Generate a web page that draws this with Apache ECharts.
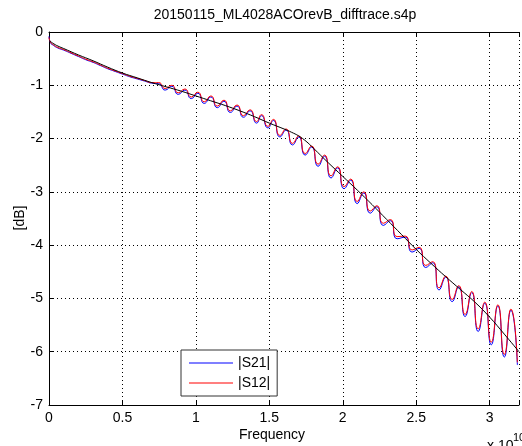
<!DOCTYPE html>
<html><head><meta charset="utf-8">
<script src="https://cdn.jsdelivr.net/npm/echarts@6/dist/echarts.min.js"></script>
<style>html,body{margin:0;padding:0;background:#fff}#c{width:522px;height:446px}</style>
</head><body><div id="c"></div>
<script>
// Frequency in units of 1e10 Hz, magnitude in dB
const titleText = '20150115_ML4028ACOrevB_difftrace.s4p';
const xTicks = [0, 0.5, 1, 1.5, 2, 2.5, 3];
const yTicks = [-7, -6, -5, -4, -3, -2, -1, 0];
const legendNames = ['|S21|', '|S12|'];

const s12Curve = [
[0,-0.10],[0.01,-0.19],[0.03,-0.24],[0.06,-0.29],[0.1,-0.33],[0.15,-0.39],[0.2,-0.45],[0.25,-0.51],[0.3,-0.56],[0.35,-0.62],[0.4,-0.68],[0.45,-0.73],[0.5,-0.78],[0.55,-0.83],[0.6,-0.87],[0.65,-0.91],[0.7,-0.95],
[0.747,-0.95],[0.791,-1.06],[0.836,-1.00],[0.880,-1.14],[0.925,-1.07],[0.969,-1.22],
[1.013,-1.13],[1.057,-1.31],[1.102,-1.20],[1.146,-1.39],[1.191,-1.28],[1.235,-1.48],
[1.280,-1.37],[1.324,-1.57],[1.369,-1.46],[1.413,-1.68],[1.447,-1.55],[1.49,-1.77],
[1.528,-1.64],[1.572,-1.94],[1.614,-1.82],[1.658,-2.09],[1.70,-1.95],[1.744,-2.28],
[1.788,-2.14],[1.832,-2.48],[1.876,-2.31],[1.920,-2.70],[1.965,-2.53],[2.009,-2.90],
[2.054,-2.76],[2.098,-3.18],[2.143,-3.00],[2.187,-3.36],[2.232,-3.26],[2.276,-3.59],
[2.324,-3.52],[2.37,-3.84],[2.425,-3.83],[2.472,-4.09],[2.52,-4.04],[2.565,-4.38],
[2.612,-4.31],[2.656,-4.80],[2.701,-4.58],[2.745,-5.02],[2.789,-4.76],[2.833,-5.30],
[2.878,-4.87],[2.922,-5.57],[2.967,-5.07],[3.011,-5.82],[3.056,-5.12],[3.10,-6.05],
[3.145,-5.20],[3.189,-6.20]
];

const s21Curve = [
[0,-0.08],[0.01,-0.20],[0.03,-0.25],[0.06,-0.30],[0.1,-0.34],[0.15,-0.40],[0.2,-0.46],[0.25,-0.52],[0.3,-0.57],[0.35,-0.63],[0.4,-0.69],[0.45,-0.74],[0.5,-0.79],[0.55,-0.84],[0.6,-0.88],[0.65,-0.92],[0.7,-0.96],
[0.747,-0.97],[0.791,-1.09],[0.836,-1.02],[0.880,-1.17],[0.925,-1.09],[0.969,-1.25],
[1.013,-1.15],[1.057,-1.34],[1.102,-1.22],[1.146,-1.42],[1.191,-1.30],[1.235,-1.51],
[1.280,-1.39],[1.324,-1.60],[1.369,-1.48],[1.413,-1.71],[1.447,-1.57],[1.49,-1.80],
[1.528,-1.66],[1.572,-1.97],[1.614,-1.84],[1.658,-2.12],[1.70,-1.97],[1.744,-2.31],
[1.788,-2.16],[1.832,-2.52],[1.876,-2.33],[1.920,-2.74],[1.965,-2.55],[2.009,-2.94],
[2.054,-2.78],[2.098,-3.22],[2.143,-3.02],[2.187,-3.40],[2.232,-3.28],[2.276,-3.63],
[2.324,-3.54],[2.37,-3.88],[2.425,-3.85],[2.472,-4.13],[2.52,-4.06],[2.565,-4.42],
[2.612,-4.33],[2.656,-4.84],[2.701,-4.60],[2.745,-5.06],[2.789,-4.78],[2.833,-5.34],
[2.878,-4.89],[2.922,-5.62],[2.967,-5.09],[3.011,-5.87],[3.056,-5.14],[3.10,-6.10],
[3.145,-5.22],[3.189,-6.25]
];

const fitCurve = [
[0,-0.16],[0.05,-0.25],[0.1,-0.31],[0.2,-0.43],[0.3,-0.54],[0.4,-0.66],[0.5,-0.77],[0.6,-0.86],[0.7,-0.95],[0.8,-1.03],[0.9,-1.11],[1.0,-1.20],[1.1,-1.29],[1.2,-1.38],[1.3,-1.48],[1.4,-1.59],[1.5,-1.71],[1.6,-1.82],[1.65,-1.88],[1.7,-1.95],[1.75,-2.05],[1.8,-2.18],[1.9,-2.45],[2.0,-2.71],[2.1,-2.97],[2.2,-3.24],[2.3,-3.52],[2.4,-3.80],[2.5,-4.08],[2.6,-4.34],[2.7,-4.59],[2.8,-4.83],[2.9,-5.07],[3.0,-5.35],[3.1,-5.67],[3.2,-6.0]
];

const FONT = '"Liberation Sans", Arial, Helvetica, sans-serif';
const dotted = { color: '#000', width: 1, type: [1, 3] };
const isTick = (arr) => (v) => (arr.some(t => Math.abs(t - v) < 1e-9) ? String(v) : '');

const chart = echarts.init(document.getElementById('c'), null, { renderer: 'canvas' });
chart.setOption({
  animation: false,
  backgroundColor: '#fff',
  grid: { left: 49, top: 32, width: 475, height: 373, containLabel: false },
  xAxis: [{
    type: 'value', position: 'bottom', min: 0, max: 3.2, interval: 0.5,
    axisLine: { show: true, onZero: false, lineStyle: { color: '#000', width: 1 } },
    axisTick: { show: true, inside: true, length: 5, lineStyle: { color: '#000' } },
    axisLabel: { formatter: isTick(xTicks), margin: 6, color: '#000', fontFamily: FONT, fontSize: 14 },
    splitLine: { show: true, lineStyle: dotted }
  }, {
    type: 'value', position: 'top', min: 0, max: 3.2, interval: 0.5,
    axisLine: { show: true, onZero: false, lineStyle: { color: '#000', width: 1 } },
    axisTick: { show: true, inside: true, length: 5, lineStyle: { color: '#000' } },
    axisLabel: { show: false }, splitLine: { show: false }
  }],
  yAxis: [{
    type: 'value', min: -7, max: 0, interval: 1,
    axisLine: { show: true, onZero: false, lineStyle: { color: '#000', width: 1 } },
    axisTick: { show: true, inside: true, length: 5, lineStyle: { color: '#000' } },
    axisLabel: { formatter: isTick(yTicks), margin: 6, color: '#000', fontFamily: FONT, fontSize: 14 },
    splitLine: { show: true, lineStyle: dotted }
  }],
  legend: {
    left: 181, top: 350, orient: 'vertical',
    data: legendNames,
    icon: 'rect', itemWidth: 44, itemHeight: 1, itemGap: 6,
    padding: [6, 7, 6, 8],
    borderColor: '#333', borderWidth: 1, backgroundColor: '#fff',
    textStyle: { color: '#000', fontFamily: FONT, fontSize: 14 }
  },
  graphic: [
    { type: 'text', x: 285, y: 15, style: { text: titleText, fill: '#000', font: '14px ' + FONT, textAlign: 'center', textVerticalAlign: 'middle' } },
    { type: 'text', x: 272, y: 435, style: { text: 'Frequency', fill: '#000', font: '14px ' + FONT, textAlign: 'center', textVerticalAlign: 'middle' } },
    { type: 'text', x: 20, y: 218, rotation: Math.PI / 2, style: { text: '[dB]', fill: '#000', font: '14px ' + FONT, textAlign: 'center', textVerticalAlign: 'middle' } },
    { type: 'text', x: 487, y: 446, style: { text: 'x 10', fill: '#000', font: '14px ' + FONT, textAlign: 'left', textVerticalAlign: 'middle' } },
    { type: 'text', x: 513, y: 438, style: { text: '10', fill: '#000', font: '11px ' + FONT, textAlign: 'left', textVerticalAlign: 'middle' } }
  ],
  series: [
    { name: '|S21|', type: 'line', data: s21Curve, showSymbol: false, symbol: 'none', smooth: 0.6,
      color: '#0000ff', lineStyle: { color: '#0000ff', width: 1 }, z: 2 },
    { name: '|S12|', type: 'line', data: s12Curve, showSymbol: false, symbol: 'none', smooth: 0.6,
      color: '#ff0000', lineStyle: { color: '#ff0000', width: 1 }, z: 3 },
    { name: 'fit', type: 'line', data: fitCurve, showSymbol: false, symbol: 'none', smooth: 0.4,
      color: '#000', lineStyle: { color: '#000', width: 1 }, z: 4 }
  ]
});
</script></body></html>
